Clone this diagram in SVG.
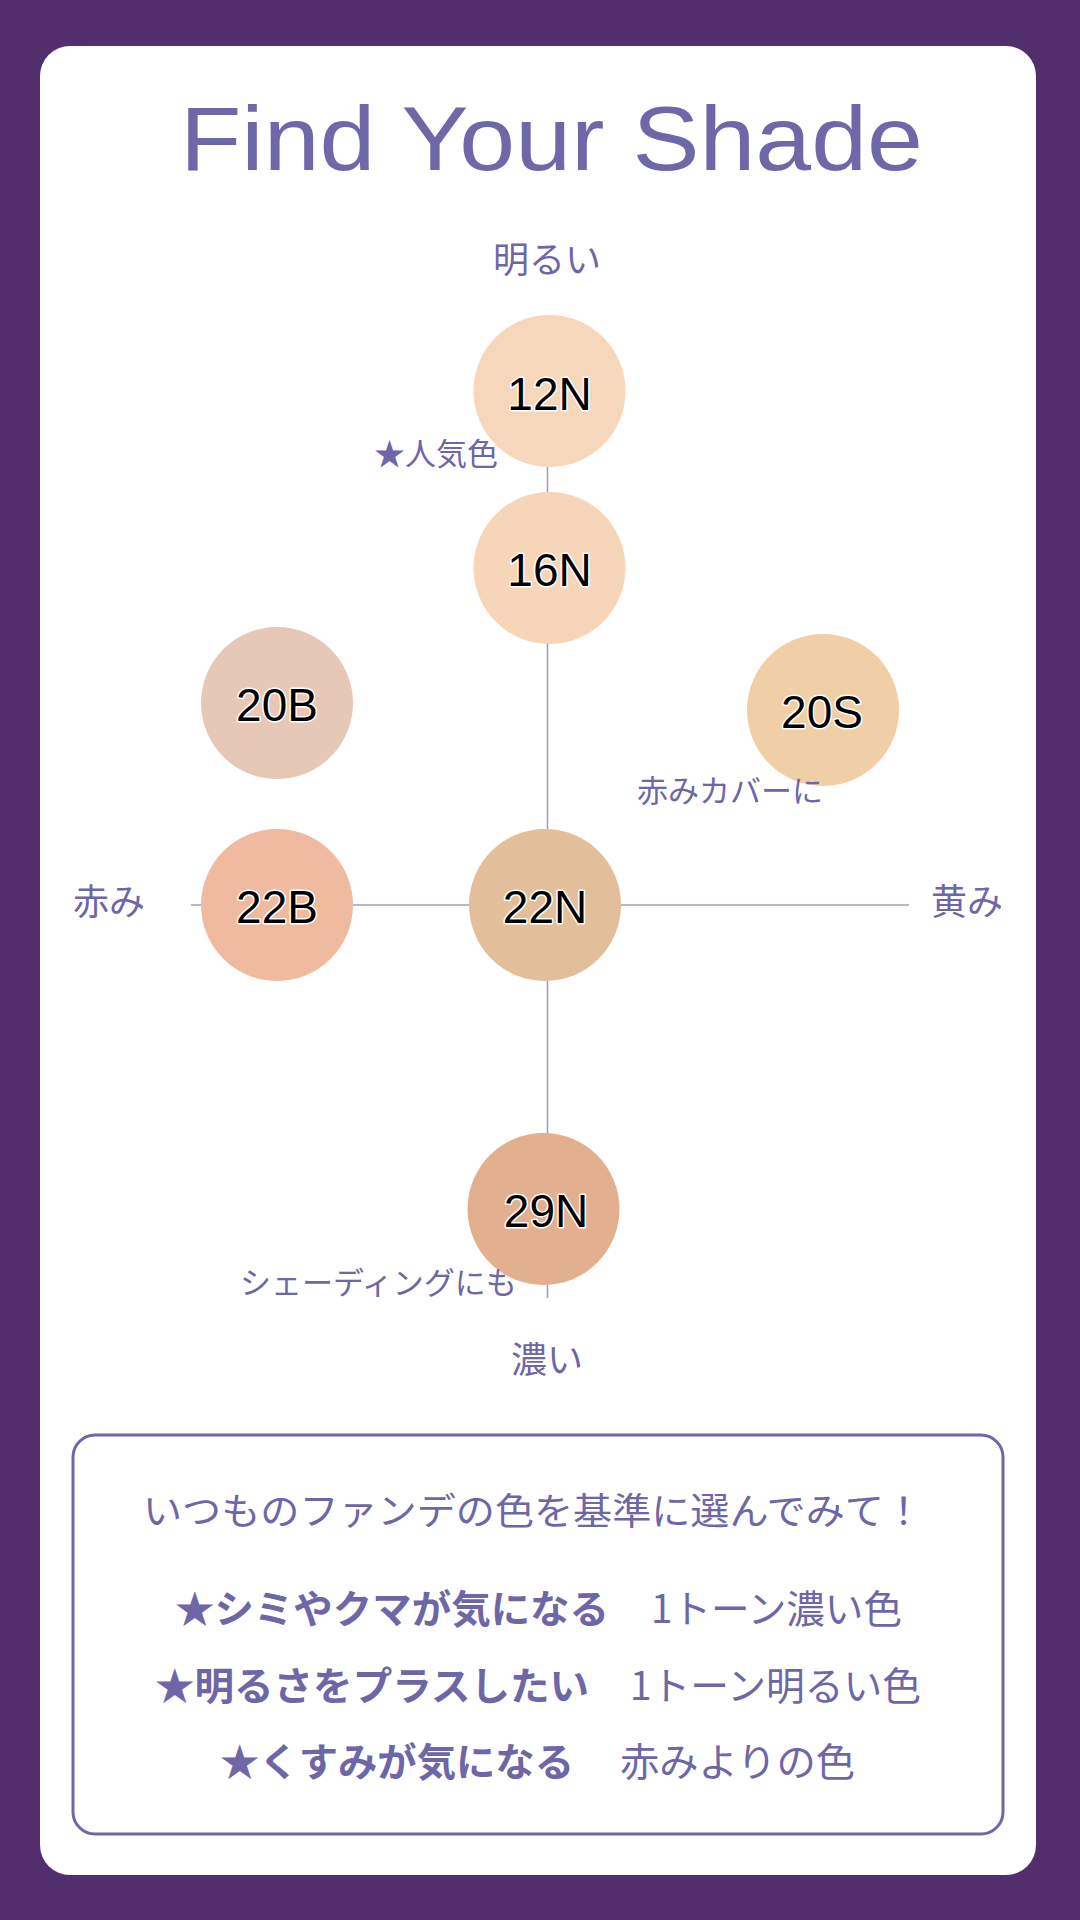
<svg xmlns="http://www.w3.org/2000/svg" width="1080" height="1920" viewBox="0 0 1080 1920">
<style>
.jp{font-family:"Noto Sans CJK JP","Noto Sans",sans-serif;fill:#6E66A7}
.ax{font-size:36px;text-anchor:middle}
.note{font-size:31px}
.code{font-family:"Liberation Sans",Arial,sans-serif;font-size:46px;fill:#000;stroke:#fff;stroke-width:3;paint-order:stroke;stroke-linejoin:round;text-anchor:middle}
.ln{stroke:#A29EC6;stroke-width:1.6;fill:none}
.b{font-weight:bold}
</style>
<rect x="0" y="0" width="1080" height="1920" fill="#532E6C"/>
<rect x="40" y="46" width="996" height="1829" rx="30" fill="#fff"/>
<text x="180" y="170" font-family="Liberation Sans,Arial,sans-serif" font-size="90" fill="#6E67A8" textLength="743" lengthAdjust="spacingAndGlyphs">Find Your Shade</text>
<g id="connectors">
<line class="ln" x1="547.5" y1="467" x2="547.5" y2="1298"/>
<line class="ln" x1="191" y1="905" x2="909" y2="905"/>
</g>
<g id="axis-labels">
<text class="jp ax" x="547" y="273">明るい</text>
<text class="jp ax" x="547" y="1373">濃い</text>
<text class="jp ax" x="109" y="915">赤み</text>
<text class="jp ax" x="967" y="915">黄み</text>
</g>
<g id="n12"><circle cx="549.5" cy="391" r="76" fill="#F7D7BB"/><text class="code" x="549.5" y="410">12N</text></g>
<g id="n16"><circle cx="549.5" cy="568" r="76" fill="#F7D5B8"/><text class="code" x="549.5" y="586">16N</text></g>
<g id="n20b"><circle cx="277" cy="703" r="76" fill="#E7C7B5"/><text class="code" x="277" y="721">20B</text></g>
<g id="n20s"><circle cx="823" cy="710" r="76" fill="#F0CFA7"/><text class="code" x="822" y="728">20S</text></g>
<g id="n22b"><circle cx="277" cy="905" r="76" fill="#EFBAA0"/><text class="code" x="277" y="923">22B</text></g>
<g id="n22n"><circle cx="545" cy="905" r="76" fill="#E2BF9A"/><text class="code" x="545" y="923">22N</text></g>
<g id="n29n"><circle cx="543.5" cy="1209" r="76" fill="#E3B08F"/><text class="code" x="546" y="1227">29N</text></g>
<g id="notes">
<text class="jp note" x="374" y="465">★人気色</text>
<text class="jp note" x="637" y="802">赤みカバーに</text>
<text class="jp note" x="240" y="1294">シェーディングにも</text>
</g>
<g id="guide">
<rect x="73" y="1435" width="930" height="399" rx="22" fill="#fff" stroke="#6E66A7" stroke-width="3"/>
<text class="jp" x="143" y="1525" font-size="37" textLength="780" lengthAdjust="spacingAndGlyphs">いつものファンデの色を基準に選んでみて！</text>
<text class="jp" font-size="39" y="1623"><tspan class="b" x="175" textLength="434" lengthAdjust="spacingAndGlyphs">★シミやクマが気になる</tspan><tspan x="651" textLength="251" lengthAdjust="spacingAndGlyphs">1トーン濃い色</tspan></text>
<text class="jp" font-size="39" y="1700"><tspan class="b" x="155" textLength="434" lengthAdjust="spacingAndGlyphs">★明るさをプラスしたい</tspan><tspan x="630" textLength="291" lengthAdjust="spacingAndGlyphs">1トーン明るい色</tspan></text>
<text class="jp" font-size="39" y="1776"><tspan class="b" x="220" textLength="354" lengthAdjust="spacingAndGlyphs">★くすみが気になる</tspan><tspan x="620" textLength="235" lengthAdjust="spacingAndGlyphs">赤みよりの色</tspan></text>
</g>
</svg>
